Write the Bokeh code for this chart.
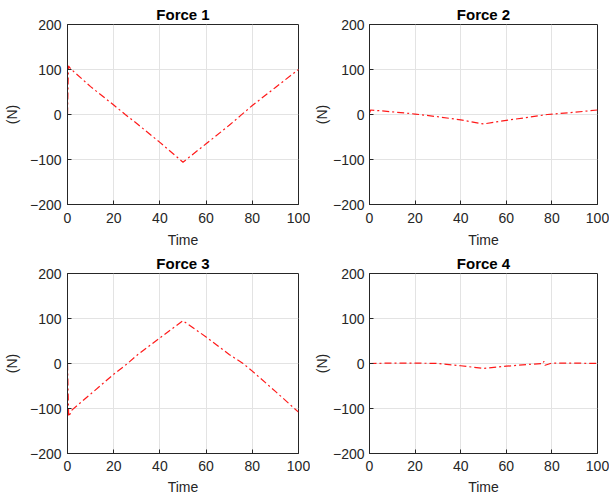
from bokeh.plotting import figure
from bokeh.layouts import column, row
from bokeh.models import Range1d, FixedTicker
from bokeh.embed import file_html
from bokeh.resources import INLINE

TITLES = ["Force 1", "Force 2", "Force 3", "Force 4"]
X_TICKS = [0, 20, 40, 60, 80, 100]
Y_TICKS = [-200, -100, 0, 100, 200]
X_LABEL = "Time"
Y_LABEL = "(N)"

t1 = [0, 0.4, 1.5, 10, 20, 25, 30, 40, 50, 60, 70, 75, 80, 90, 100]
f1 = [0, 108, 101, 62, 21, 0, -20, -62, -106, -65, -24, -2, 20, 60, 100]

t2 = [0, 0.5, 10, 20, 30, 40, 50, 60, 70, 78, 90, 100]
f2 = [3, 10, 6, 1, -5, -12, -21, -13, -6, 0, 5, 10]

t3 = [0, 0.5, 2, 10, 20, 26, 30, 40, 50, 60, 70, 76, 80, 90, 100]
f3 = [0, -118, -103, -68, -24, 0, 18, 57, 95, 59, 20, 0, -17, -62, -108]

t4 = [0, 10, 20, 30, 40, 50, 60, 70, 76, 76.5, 77, 80, 90, 100]
f4 = [0, 1, 1, 0, -5, -11, -6, -2, 0, 5, -4, 1, 1, 0]

FONT = "Liberation Sans"
DARK = "#262626"


def make(title, t, f, w, h, bl, br, bt, bb, ylab_sd, ytick_sd, xtick_sd, xlab_sd):
    p = figure(width=w, height=h, output_backend="svg", toolbar_location=None,
               x_range=Range1d(0, 100), y_range=Range1d(-200, 200),
               min_border_left=bl, min_border_right=br,
               min_border_top=bt, min_border_bottom=bb,
               background_fill_color="white", border_fill_color="white")
    p.title.text = title
    p.title.align = "center"
    p.title.text_font = FONT
    p.title.text_font_size = "15px"
    p.title.text_font_style = "bold"
    p.title.text_color = "black"
    p.title.standoff = 4
    p.title.text_line_height = 1.0
    p.xaxis.ticker = FixedTicker(ticks=X_TICKS)
    p.yaxis.ticker = FixedTicker(ticks=Y_TICKS)
    p.xaxis.axis_label = X_LABEL
    p.yaxis.axis_label = Y_LABEL
    for ax in (p.xaxis, p.yaxis):
        ax.axis_line_color = DARK
        ax.major_tick_line_color = DARK
        ax.major_tick_in = 4
        ax.major_tick_out = 0
        ax.minor_tick_line_color = None
        ax.major_label_text_font = FONT
        ax.major_label_text_font_size = "14px"
        ax.major_label_text_color = DARK
        ax.major_label_text_line_height = 1.0
        ax.axis_label_text_font = FONT
        ax.axis_label_text_font_size = "14px"
        ax.axis_label_text_font_style = "normal"
        ax.axis_label_text_color = DARK
        ax.axis_label_text_line_height = 1.0
    p.xaxis.major_label_standoff = xtick_sd
    p.xaxis.axis_label_standoff = xlab_sd
    p.yaxis.major_label_standoff = ytick_sd
    p.yaxis.axis_label_standoff = ylab_sd
    p.outline_line_color = DARK
    p.outline_line_alpha = 1
    p.grid.grid_line_color = "#e3e3e3"
    p.line(t, f, color="red", line_width=1.2, line_dash="7 3 2 3", line_alpha=0.9)
    return p


p1 = make(TITLES[0], t1, f1, 310, 250, 60, 12, 24, 46, 7, 6, 8, 6)
p2 = make(TITLES[1], t2, f2, 299, 250, 50, 12, 24, 46, 0, 5, 8, 6)
p3 = make(TITLES[2], t3, f3, 310, 247, 60, 12, 23, 44, 7, 6, 7, 5)
p4 = make(TITLES[3], t4, f4, 299, 247, 50, 12, 23, 44, 0, 5, 7, 5)

layout = column(row(p1, p2), row(p3, p4))

open("out.html", "w").write(file_html(layout, INLINE))
